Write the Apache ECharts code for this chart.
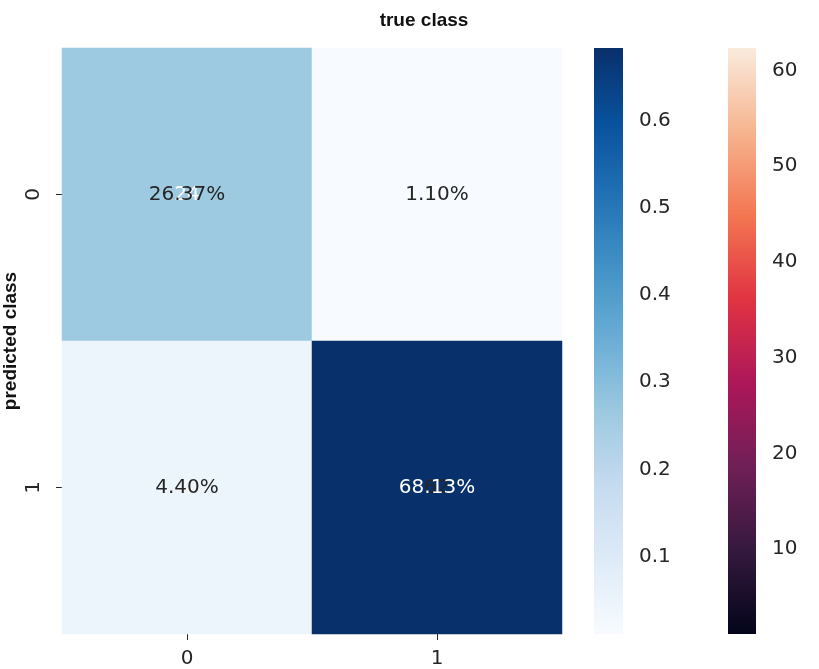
<!DOCTYPE html>
<html>
<head>
<meta charset="utf-8">
<script src="https://cdn.jsdelivr.net/npm/echarts@6/dist/echarts.min.js"></script>
<style>
html,body{margin:0;padding:0;background:#fff;}
#chart{width:819px;height:669px;}
</style>
</head>
<body>
<div id="chart"></div>
<script>
// ---- data ----
const trueClasses = ['0', '1'];          // x (columns)
const predictedClasses = ['0', '1'];     // y (rows)
// row = predicted class, column = true class
const percentValues = [[0.2637, 0.0110], [0.0440, 0.6813]];
const countValues = [[24, 1], [4, 62]];
const percentTicks = [0.1, 0.2, 0.3, 0.4, 0.5, 0.6];
const countTicks = [10, 20, 30, 40, 50, 60];
const percentRange = [0.0115, 0.683];
const countRange = [1.15, 62.35];

// ---- colormaps ----
const bluesStops = [
  [0.0, '#f7fbff'], [0.125, '#deebf7'], [0.25, '#c6dbef'], [0.375, '#9ecae1'],
  [0.5, '#6baed6'], [0.625, '#4292c6'], [0.75, '#2171b5'], [0.875, '#08519c'], [1.0, '#08306b']
];
const rocketStops = [
  [0.0, '#03051a'], [0.143, '#35193e'], [0.286, '#701f57'], [0.429, '#ad1759'],
  [0.571, '#e13342'], [0.714, '#f37651'], [0.857, '#f6b48f'], [1.0, '#faebdd']
];
const DARK = '#262626';
const FONT = 'DejaVu Sans';
const BOLD_FONT = '"Liberation Sans Narrow", "Liberation Sans", sans-serif';

const percentCells = [];
const percentData = [];
const countData = [];
predictedClasses.forEach((p, r) => {
  trueClasses.forEach((t, c) => {
    const pv = percentValues[r][c];
    const cv = countValues[r][c];
    percentCells.push([c, r, pv]);
    percentData.push({
      value: [c, r, pv],
      label: { color: pv > 0.45 ? '#ffffff' : DARK }
    });
    countData.push({
      value: [c, r, cv],
      label: { color: cv > 40 ? DARK : '#ffffff' }
    });
  });
});

function gradient(stops) {
  return new echarts.graphic.LinearGradient(0, 1, 0, 0,
    stops.map(s => ({ offset: s[0], color: s[1] })));
}

function barRenderer(range, stops) {
  return function (params, api) {
    const p1 = api.coord([0, range[1]]);
    const p2 = api.coord([1, range[0]]);
    return {
      type: 'rect',
      shape: { x: p1[0], y: p1[1], width: p2[0] - p1[0], height: p2[1] - p1[1] },
      style: { fill: gradient(stops) }
    };
  };
}

function cbarYAxis(idx, range, ticks) {
  return {
    type: 'value', gridIndex: idx, position: 'right',
    min: range[0], max: range[1],
    axisLine: { show: false },
    splitLine: { show: false },
    axisTick: { show: true, length: 7, customValues: ticks, lineStyle: { color: DARK, width: 1.2 } },
    axisLabel: { show: true, customValues: ticks, margin: 16, color: DARK,
                 fontFamily: FONT, fontSize: 20 }
  };
}

const chart = echarts.init(document.getElementById('chart'), null, { renderer: 'canvas' });
chart.setOption({
  backgroundColor: '#ffffff',
  animation: false,
  graphic: [{
    type: 'text', x: 424, y: 21,
    style: { text: 'true class', align: 'center', verticalAlign: 'middle',
             font: 'bold 19px ' + BOLD_FONT, fill: '#111' }
  }],
  grid: [
    { left: 62, top: 48, width: 500, height: 586, outerBoundsMode: 'none', containLabel: false },
    { left: 594, top: 48, width: 29, height: 586, outerBoundsMode: 'none', containLabel: false },
    { left: 728, top: 48, width: 28, height: 586, outerBoundsMode: 'none', containLabel: false }
  ],
  xAxis: [
    { type: 'category', gridIndex: 0, data: trueClasses,
      axisLine: { show: false }, splitLine: { show: false },
      axisTick: { show: true, alignWithLabel: true, length: 6, lineStyle: { color: DARK } },
      axisLabel: { margin: 15, color: DARK, fontFamily: FONT, fontSize: 20 } },
    { type: 'value', gridIndex: 1, min: 0, max: 1, show: false },
    { type: 'value', gridIndex: 2, min: 0, max: 1, show: false }
  ],
  yAxis: [
    { type: 'category', gridIndex: 0, data: predictedClasses, inverse: true,
      axisLine: { show: false }, splitLine: { show: false },
      axisTick: { show: true, alignWithLabel: true, length: 6, lineStyle: { color: DARK } },
      axisLabel: { margin: 18, rotate: 90, color: DARK, fontFamily: FONT, fontSize: 20 },
      name: 'predicted class', nameLocation: 'middle', nameRotate: 90, nameGap: 42,
      nameMoveOverlap: false,
      nameTextStyle: { fontFamily: BOLD_FONT, fontWeight: 'bold', fontSize: 19, color: '#111' } },
    cbarYAxis(1, percentRange, percentTicks),
    cbarYAxis(2, countRange, countTicks)
  ],
  visualMap: [
    { type: 'continuous', show: false, seriesIndex: 0, dimension: 2,
      min: percentRange[0], max: percentRange[1],
      inRange: { color: bluesStops.map(s => s[1]) } }
  ],
  series: [
    { type: 'heatmap', name: 'percent cells', xAxisIndex: 0, yAxisIndex: 0, z: 2,
      data: percentCells,
      itemStyle: { borderWidth: 0 },
      label: { show: false },
      emphasis: { disabled: true } },
    { type: 'heatmap', name: 'count', xAxisIndex: 0, yAxisIndex: 0, z: 3,
      data: countData,
      itemStyle: { color: 'rgba(0,0,0,0)' },
      label: { show: true, fontFamily: FONT, fontSize: 20,
               formatter: p => String(p.value[2]) },
      emphasis: { disabled: true } },
    { type: 'heatmap', name: 'percent', xAxisIndex: 0, yAxisIndex: 0, z: 4,
      data: percentData,
      itemStyle: { color: 'rgba(0,0,0,0)' },
      label: { show: true, fontFamily: FONT, fontSize: 20,
               formatter: p => (p.value[2] * 100).toFixed(2) + '%' },
      emphasis: { disabled: true } },
    { type: 'custom', xAxisIndex: 1, yAxisIndex: 1, data: [[0, percentRange[0]]],
      renderItem: barRenderer(percentRange, bluesStops), silent: true },
    { type: 'custom', xAxisIndex: 2, yAxisIndex: 2, data: [[0, countRange[0]]],
      renderItem: barRenderer(countRange, rocketStops), silent: true }
  ]
});
</script>
</body>
</html>
